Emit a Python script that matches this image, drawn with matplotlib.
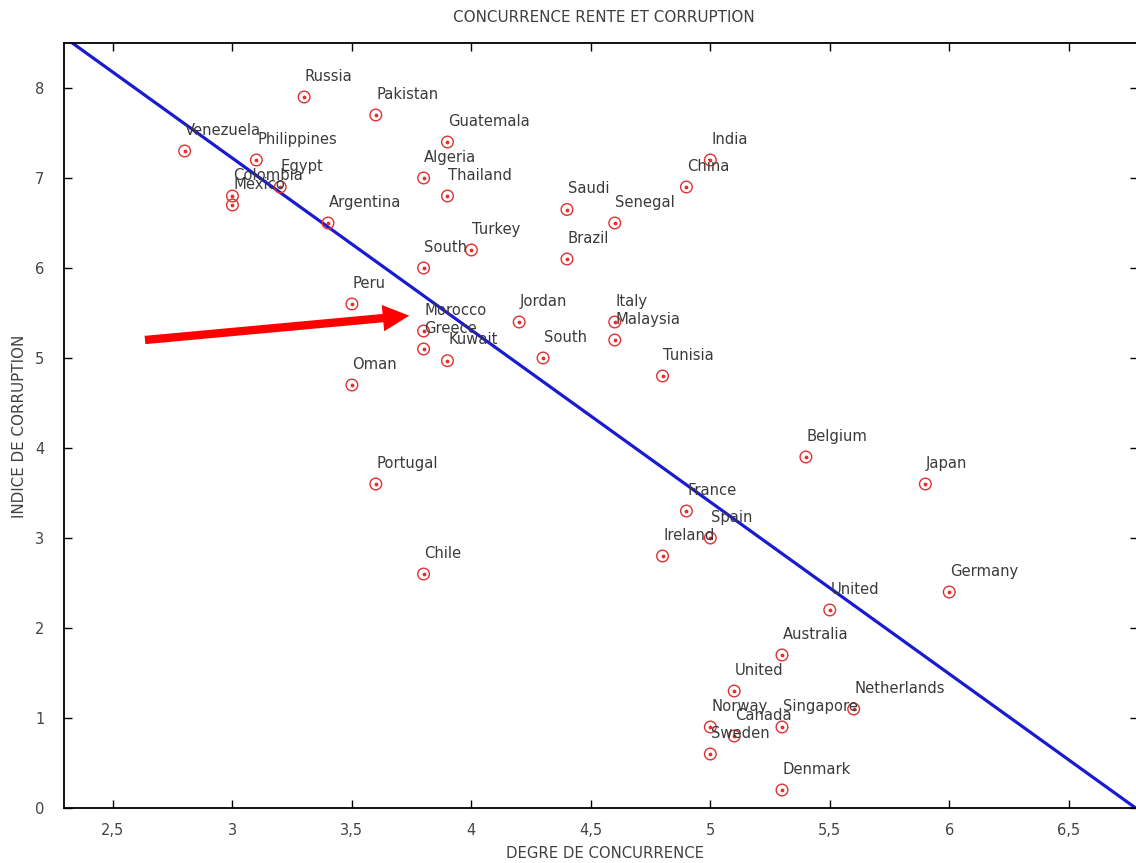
import numpy as np
import matplotlib
matplotlib.use("Agg")
import matplotlib.pyplot as plt

# data
countries = ["Russia", "Pakistan", "Guatemala", "Venezuela", "Philippines", "Egypt",
             "Colombia", "Mexico", "Algeria", "Thailand", "India", "China", "Saudi",
             "Senegal", "Argentina", "Turkey", "South", "Brazil", "Peru", "Jordan",
             "Italy", "Malaysia", "Morocco", "Greece", "Kuwait", "South", "Tunisia",
             "Oman", "Belgium", "Japan", "Portugal", "France", "Spain", "Ireland",
             "Chile", "Germany", "United", "Australia", "United", "Netherlands",
             "Norway", "Singapore", "Canada", "Sweden", "Denmark"]
concurrence = [3.3, 3.6, 3.9, 2.8, 3.1, 3.2,
               3.0, 3.0, 3.8, 3.9, 5.0, 4.9, 4.4,
               4.6, 3.4, 4.0, 3.8, 4.4, 3.5, 4.2,
               4.6, 4.6, 3.8, 3.8, 3.9, 4.3, 4.8,
               3.5, 5.4, 5.9, 3.6, 4.9, 5.0, 4.8,
               3.8, 6.0, 5.5, 5.3, 5.1, 5.6,
               5.0, 5.3, 5.1, 5.0, 5.3]
corruption = [7.9, 7.7, 7.4, 7.3, 7.2, 6.9,
              6.8, 6.7, 7.0, 6.8, 7.2, 6.9, 6.65,
              6.5, 6.5, 6.2, 6.0, 6.1, 5.6, 5.4,
              5.4, 5.2, 5.3, 5.1, 4.97, 5.0, 4.8,
              4.7, 3.9, 3.6, 3.6, 3.3, 3.0, 2.8,
              2.6, 2.4, 2.2, 1.7, 1.3, 1.1,
              0.9, 0.9, 0.8, 0.6, 0.2]

# fitted line y = a + b*x
fit_a = 12.95
fit_b = -1.91

# arrow (tail, tip)
arrow_tail = (2.634, 5.2)
arrow_tip = (3.74, 5.47)

xticks = [2.5, 3, 3.5, 4, 4.5, 5, 5.5, 6, 6.5]
xticklabels = ["2,5", "3", "3,5", "4", "4,5", "5", "5,5", "6", "6,5"]
yticks = [0, 1, 2, 3, 4, 5, 6, 7, 8]

plt.rcParams['font.family'] = ['DejaVu Sans']

fig = plt.figure(figsize=(11.36, 8.63), dpi=100)
# right edge of the frame falls just outside the picture, as in the reference
ax = fig.add_axes([64 / 1136, 55 / 863, 1074 / 1136, 765 / 863])

ax.set_xlim(2.295, 6.79)
ax.set_ylim(0, 8.5)

xs = np.array([2.2, 7.0])
ax.plot(xs, fit_a + fit_b * xs, color='#1a1ad0', lw=2.3, zorder=2)

ax.scatter(concurrence, corruption, s=70, facecolors='none', edgecolors='#e03030',
           linewidths=1.0, zorder=3)
ax.scatter(concurrence, corruption, s=3, color='#e03030', zorder=3)

for name, x, y in zip(countries, concurrence, corruption):
    ax.annotate(name, (x, y), xytext=(0.5, 15), textcoords='offset points',
                ha='left', va='center', fontsize=10.6, color='#3a3a3a', zorder=4)

ax.annotate('', xy=arrow_tip, xytext=arrow_tail,
            arrowprops=dict(arrowstyle='simple,head_length=0.95,head_width=0.95,tail_width=0.3',
                            color='#ff0000', lw=0, shrinkA=0, shrinkB=0,
                            mutation_scale=20),
            zorder=5)

ax.set_xticks(xticks)
ax.set_xticklabels(xticklabels)
ax.set_yticks(yticks)
ax.tick_params(direction='in', length=6, width=1.0, top=True, right=True,
               labelsize=10.5, labelcolor='#444444')
ax.tick_params(axis='x', pad=11)
ax.tick_params(axis='y', pad=14)
for sp in ax.spines.values():
    sp.set_linewidth(1.3)

fig.text(604 / 1136, 1 - 18 / 863, "CONCURRENCE RENTE ET CORRUPTION", ha='center',
         va='center', fontsize=10.9, color='#404040')
fig.text(605 / 1136, 1 - 853 / 863, "DEGRE DE CONCURRENCE", ha='center', va='center',
         fontsize=10.7, color='#404040')
fig.text(20 / 1136, 1 - 426 / 863, "INDICE DE CORRUPTION", ha='center', va='center',
         rotation=90, fontsize=10.9, color='#404040')

fig.savefig("out.png", dpi=100)
